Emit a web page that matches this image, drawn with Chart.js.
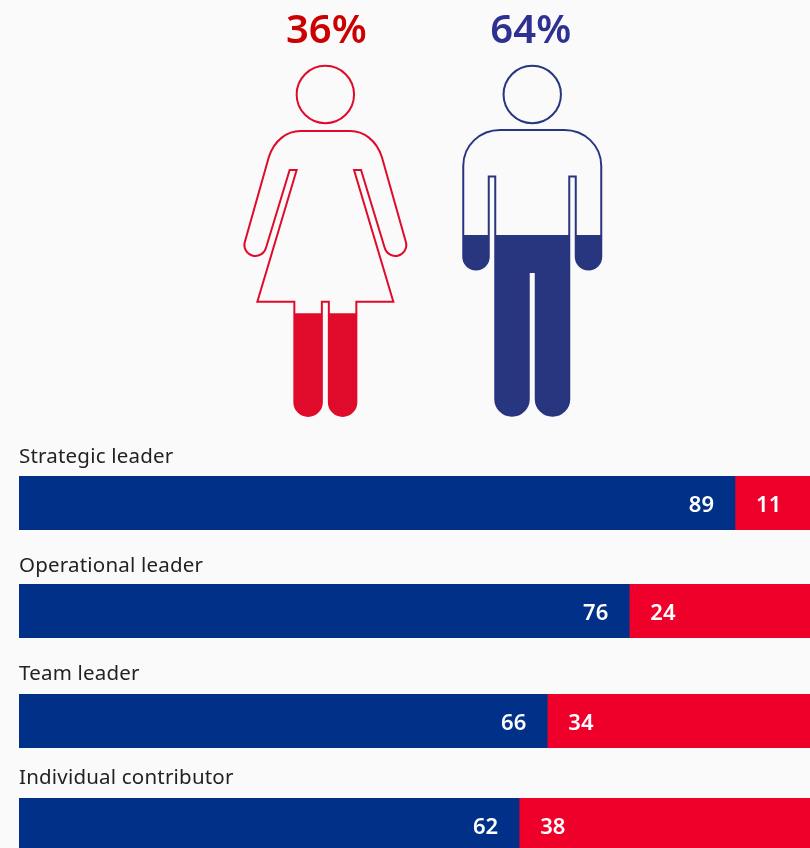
<!DOCTYPE html>
<html><head><meta charset="utf-8">
<script src="https://cdn.jsdelivr.net/npm/chart.js@4"></script>
<style>
html,body{margin:0;padding:0;width:810px;height:848px;overflow:hidden;background:#fafafa}
canvas{position:absolute;left:0;display:block}
</style></head><body>
<canvas id="top" width="810" height="430" style="top:0"></canvas>
<canvas id="r0" width="823" height="90" style="top:440px"></canvas>
<canvas id="r1" width="823" height="90" style="top:548px"></canvas>
<canvas id="r2" width="823" height="90" style="top:658px"></canvas>
<canvas id="r3" width="823" height="90" style="top:762px"></canvas>
<script>
// ---- data ----
const genders = ['Women', 'Men'];
const genderShares = [36, 64];
const categories = ['Strategic leader', 'Operational leader', 'Team leader', 'Individual contributor'];
const menValues = [89.05, 75.9, 65.7, 62.2];
const womenValues = [10.95, 24.1, 34.3, 37.8];

// ---- styles ----
const BLUE = '#003087', RED = '#ee002b';
const iconColors = ['#e00b2b', '#28357f'];
const textColors = ['#cc0000', '#2e3192'];
const labelGaps = [7, 6, 8, 8];   // title padding below the row label
const shareLabelShift = [1, -1.5];

// pictogram outlines, relative to the bar centre and chart-area top
const ICON_W = "M-25 66 L25 66 C38 66 51 75 56.5 92 L80.8 178 A11 11 0 0 1 59.4 183 L35.7 105 L28.7 105 L68 236.7 L31 236.7 L31 337.15 A13.75 13.75 0 0 1 3.5 337.15 L3.5 236.7 L-3.5 236.7 L-3.5 337.15 A13.75 13.75 0 0 1 -31 337.15 L-31 236.7 L-68 236.7 L-28.7 105 L-35.7 105 L-59.4 183 A11 11 0 0 1 -80.8 178 L-56.5 92 C-51 75 -38 66 -25 66 Z";
const ICON_M = "M-32 65 L32 65 C52 65 69 80 69 101 L69 191.75 A12.75 12.75 0 0 1 43.5 191.75 L43.5 111.5 L37 111.5 L37 334 A16.75 16.75 0 0 1 3.5 334 L3.5 207 L-3.5 207 L-3.5 334 A16.75 16.75 0 0 1 -37 334 L-37 111.5 L-43.5 111.5 L-43.5 191.75 A12.75 12.75 0 0 1 -69 191.75 L-69 101 C-69 80 -52 65 -32 65 Z";
const HEAD = "M-28.7 29.5 a28.7 28.7 0 1 0 57.4 0 a28.7 28.7 0 1 0 -57.4 0 Z";
const bodies = [ICON_W, ICON_M];

const pictogram = {
  id: 'pictogram',
  beforeDatasetsDraw(chart) {
    const {ctx, chartArea} = chart, bars = chart.getDatasetMeta(0).data;
    const clip = new Path2D();
    bars.forEach((b, i) => clip.addPath(new Path2D(bodies[i]), new DOMMatrix().translate(b.x, chartArea.top)));
    ctx.save();
    ctx.clip(clip);
  },
  afterDatasetsDraw(chart) {
    const {ctx, chartArea} = chart, bars = chart.getDatasetMeta(0).data;
    ctx.restore();
    bars.forEach((b, i) => {
      ctx.save();
      ctx.translate(b.x, chartArea.top);
      ctx.strokeStyle = iconColors[i];
      ctx.lineWidth = 2;
      ctx.lineJoin = 'miter';
      ctx.stroke(new Path2D(bodies[i]));
      ctx.stroke(new Path2D(HEAD));
      ctx.restore();
      ctx.save();
      ctx.fillStyle = textColors[i];
      ctx.font = '600 40px "Noto Sans"';
      ctx.textAlign = 'center';
      ctx.textBaseline = 'alphabetic';
      ctx.fillText(genderShares[i] + '%', b.x + shareLabelShift[i], 43);
      ctx.restore();
    });
  }
};

new Chart(document.getElementById('top'), {
  type: 'bar',
  data: {labels: genders, datasets: [{data: genderShares, base: -1, backgroundColor: iconColors,
    barPercentage: 1, categoryPercentage: 1, borderWidth: 0}]},
  options: {
    responsive: false, animation: false, devicePixelRatio: 1,
    layout: {padding: {left: 221.9, right: 174.3, top: 65, bottom: 13}},
    scales: {x: {display: false}, y: {display: false, min: -1, max: 125}},
    plugins: {legend: {display: false}, tooltip: {enabled: false}}
  },
  plugins: [pictogram]
});

const valueLabels = {
  id: 'valueLabels',
  beforeDraw(chart) { chart.ctx.letterSpacing = '0.2px'; },
  afterDatasetsDraw(chart) {
    const {ctx} = chart;
    ctx.save();
    ctx.letterSpacing = '0px';
    ctx.font = '600 22px "Noto Sans"';
    ctx.fillStyle = '#ffffff';
    ctx.textBaseline = 'alphabetic';
    chart.data.datasets.forEach((ds, d) => {
      chart.getDatasetMeta(d).data.forEach((b, i) => {
        const txt = String(Math.round(ds.data[i]));
        if (d === 0) { ctx.textAlign = 'right'; ctx.fillText(txt, b.x - 21, b.y + 9); }
        else { ctx.textAlign = 'center'; ctx.fillText(txt, b.base + 33.7, b.y + 9); }
      });
    });
    ctx.restore();
  }
};

categories.forEach((cat, i) => {
  new Chart(document.getElementById('r' + i), {
    type: 'bar',
    data: {labels: [cat], datasets: [
      {label: 'Men', data: [menValues[i]], backgroundColor: BLUE, stack: 's', barPercentage: 1, categoryPercentage: 1, borderWidth: 0},
      {label: 'Women', data: [womenValues[i]], backgroundColor: RED, stack: 's', barPercentage: 1, categoryPercentage: 1, borderWidth: 0}
    ]},
    options: {
      indexAxis: 'y', responsive: false, animation: false, devicePixelRatio: 1,
      layout: {padding: {left: 19, right: 0, top: 0, bottom: 0}},
      scales: {x: {display: false, stacked: true, min: 0, max: 100}, y: {display: false, stacked: true}},
      plugins: {
        legend: {display: false}, tooltip: {enabled: false},
        title: {display: true, text: cat, align: 'start', color: '#222222',
          font: {family: '"Noto Sans"', size: 20.5, weight: 'normal', lineHeight: 1.2},
          padding: {top: 11.4 - labelGaps[i], bottom: labelGaps[i]}}
      }
    },
    plugins: [valueLabels]
  });
});
</script>
</body></html>
